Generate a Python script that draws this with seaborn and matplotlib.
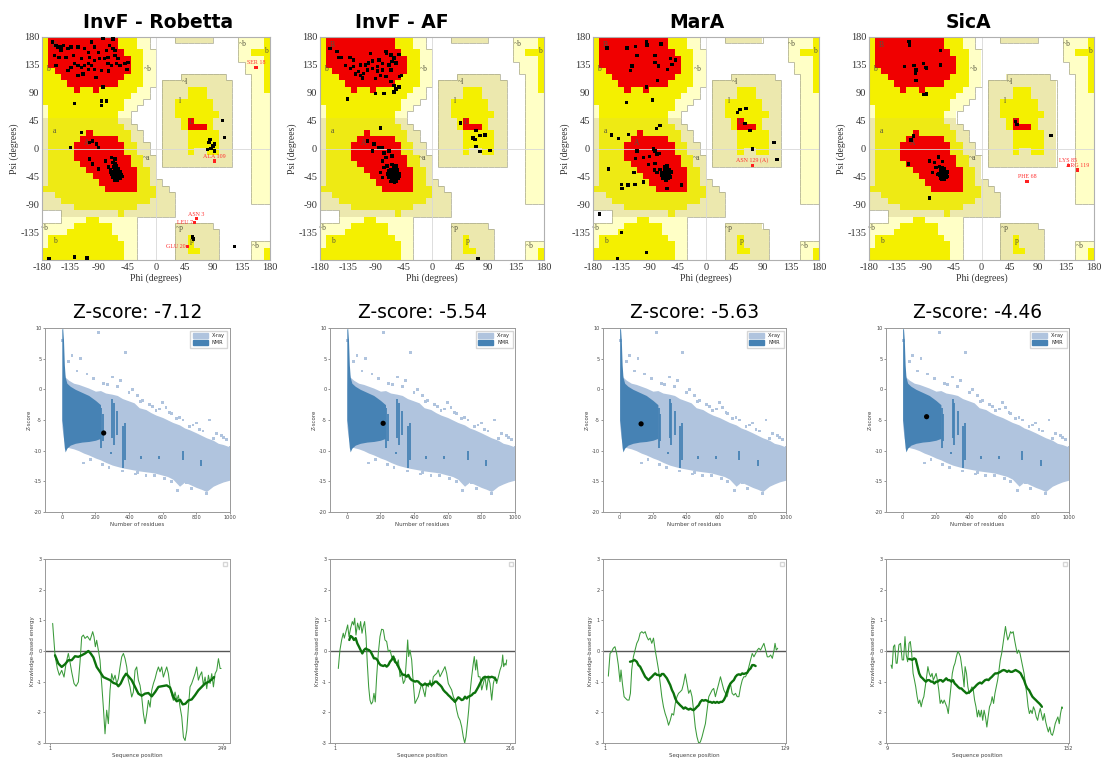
import numpy as np
import matplotlib
matplotlib.use("Agg")
import matplotlib.pyplot as plt
from matplotlib.colors import ListedColormap
from matplotlib.collections import LineCollection
from matplotlib.patches import Patch
import seaborn as sns

sns.set_theme(style="white")
plt.rcParams['font.family'] = ['DejaVu Sans']
plt.rcParams['axes.unicode_minus'] = False

# ---------------- data ----------------
TITLES = ["InvF - Robetta", "InvF - AF", "MarA", "SicA"]
ZSCORES = [-7.12, -5.54, -5.63, -4.46]
N_RESIDUES = [249, 216, 129, 144]
SEQ_START = [1, 1, 1, 9]
SEQ_END = [249, 216, 129, 152]

# Ramachandran region map, 10-degree cells, rows from psi=180 (top) to -180,
# columns from phi=-180 to 180. Run-length coded: code + count.
# . disallowed, p generous (~b), k generous (~a/~l/~p), y allowed, o allowed (a), R core
RAMA_RUNS = [
    "y1 R11 y3 p2 .4 k6 .4 p4 y1",
    "y1 R11 y3 p2 .14 p4 y1",
    "y1 R12 y3 p2 .13 p2 y3",
    "y1 R13 y2 p2 .13 p4 y1",
    "y1 R13 y2 p2 .14 p3 y1",
    "y2 R12 y2 p2 .14 p3 y1",
    "y3 R10 y3 p2 .4 k7 .4 p2 y1",
    "y4 R8 y4 p2 .1 k11 .3 p2 y1",
    "y5 R1 y2 R1 y6 p2 .2 k4 y3 k4 .3 p2 y1",
    "y14 p3 .2 k4 y3 k4 .3 p3",
    "y13 p3 .3 k2 y6 k3 .3 p3",
    "p1 y12 p2 .4 k2 y6 k3 .3 p3",
    "p1 y11 p2 .5 k2 y7 k2 .3 p3",
    "k1 o11 k2 .5 k3 y1 R1 y3 k3 .3 p3",
    "k1 o12 k2 .4 k3 y1 R3 y1 k3 .3 p3",
    "k1 o6 R1 o6 k2 .3 k4 y5 k2 .3 p3",
    "k1 o5 R6 o2 k2 .3 k4 y5 k2 .3 p3",
    "k1 o4 R8 o2 k2 .2 k4 y5 k2 .3 p3",
    "k1 o4 R8 o2 k2 .2 k4 y1 k2 y2 k2 .3 p3",
    "k1 o4 R9 o2 k2 .1 k11 .3 p3",
    "k1 o5 R8 o2 k2 .1 k11 .3 p3",
    "k1 o6 R8 o2 k1 .15 p3",
    "k1 o7 R7 o2 k1 .15 p3",
    "k1 o8 R6 o2 k2 .14 p3",
    "o10 R5 o3 k2 .13 p3",
    "k2 o16 k3 .12 p3",
    "k3 o14 k4 .12 p3",
    "k5 o10 k6 .15",
    ".3 k9 o1 k8 .15",
    ".3 p4 y2 p6 .21",
    "p5 y6 p4 .6 k6 .9",
    "p4 y7 p4 .6 k7 .8",
    "p1 y11 p3 .6 k2 y1 k4 .8",
    "p1 y12 p2 .6 k2 y1 k4 .5 p3",
    "y13 p2 .6 k2 y2 k3 .5 p2 y1",
    "y13 p2 .6 k7 .5 p2 y1",
]
REGION_LABELS = [("B", -160, 167), ("b", -171, 128), ("~b", -13, 128), ("a", -160, 28),
                 ("A", -110, 9), ("~a", -15, -15), ("~l", 46, 108), ("l", 37, 77),
                 ("L", 55, 42), ("~p", 37, -129), ("p", 57, -149), ("~b", 137, 168),
                 ("b", 173, 158), ("~b", -175, -129), ("b", -160, -149), ("~b", 157, -158)]

RAMA_POINTS_1 = [
    (-163,172),(-158,166),(-155,164),(-149,164),(-146,166),(-150,158),(-139,161),(-134,164),
    (-123,164),(-113,161),(-107,155),(-102,172),(-97,164),(-84,178),(-78,158),(-73,166),
    (-68,161),(-65,158),(-60,145),(-76,147),(-81,145),(-89,145),(-97,142),(-102,134),
    (-107,137),(-113,134),(-118,131),(-123,134),(-129,137),(-134,131),(-139,126),(-123,118),
    (-107,128),(-97,128),(-86,126),(-76,137),(-70,134),(-62,137),(-57,134),(-49,137),
    (-46,128),(-84,99),(-153,147),(-142,147),(-158,134),(-118,145),(-105,147),(-91,155),
    (-68,177),(-44,139),(-160,150),(-130,150),(-115,120),(-95,115),(-75,125),(-65,150),
    (-86,77),(-78,77),(-86,69),(-129,73),
    (-118,26),(-135,2),(-105,10),(-100,12),(-94,7),(-91,2),(-105,-17),(-100,-25),(-91,-33),
    (-70,-15),(-65,-17),(-68,-23),(-65,-25),(-62,-28),(-80,-20),(-75,-30),(-72,-35),
    (-66,-40),(-64,-42),(-62,-38),(-60,-44),(-58,-40),(-63,-46),(-67,-44),(-61,-36),(-65,-35),
    (-59,-47),(-57,-43),(-62,-41),(-64,-48),(-68,-38),(-60,-33),(-56,-38),(-63,-43),(-61,-45),
    (-66,-47),(-59,-39),(-65,-41),(-62,-49),(-58,-45),(-70,-42),(-67,-30),(-55,-42),(-64,-37),
    (-60,-40),(-63,-33),(-57,-48),(-69,-46),(-61,-51),(-65,-52),(-54,-45),(-71,-38),
    (105,45),(108,18),(85,15),(90,4),(87,0),(92,7),(81,-2),(92,-4),(84,10),
    (58,-143),(59,-146),(124,-158),(-169,-178),(-129,-175),(-109,-177),
]
RAMA_POINTS_2 = [
    (-164,161),(-153,157),(-150,147),(-145,147),(-139,134),(-132,147),(-131,129),(-126,132),
    (-123,120),(-118,124),(-115,118),(-112,114),(-110,121),(-107,135),(-102,138),(-99,153),
    (-96,141),(-91,113),(-88,125),(-85,143),(-83,118),(-80,137),(-74,157),(-73,154),(-69,135),
    (-66,151),(-64,140),(-61,146),(-58,138),(-53,152),(-52,116),(-49,118),(-66,127),(-80,127),
    (-74,116),(-66,108),(-61,102),(-53,99),(-77,89),(-91,89),(-136,80),(-61,91),(-58,96),
    (-126,143),(-115,135),(-104,127),(-96,129),(-88,132),
    (-83,33),(-104,12),(-93,7),(-85,2),(-96,-4),(-80,2),(-77,-7),(-74,-15),(-69,-4),(-64,-12),
    (-80,-20),(-77,-31),(-72,-28),(-83,-39),(-80,-47),
    (-62,-40),(-60,-42),(-64,-38),(-58,-44),(-66,-45),(-61,-47),(-63,-35),(-57,-39),(-59,-50),
    (-65,-41),(-62,-44),(-60,-37),(-55,-43),(-67,-39),(-64,-48),(-58,-36),(-61,-41),(-63,-52),
    (-56,-47),(-68,-43),(-60,-46),(-62,-30),(-66,-34),(-59,-42),(-53,-40),(-70,-47),(-65,-50),
    (-57,-53),(-61,-38),(-63,-44),(-54,-48),(-69,-36),(-58,-28),(-64,-26),(-52,-45),(-71,-41),
    (-60,-55),(-66,-53),(-62,-48),(-56,-35),
    (46,41),(71,29),(69,15),(66,17),(77,21),(85,22),(71,3),(77,-5),(93,-3),(74,-178),
]
RAMA_POINTS_3 = [
    (-158,162),(-126,162),(-112,165),(-95,173),(-94,167),(-72,169),(-110,150),(-81,150),
    (-81,139),(-76,133),(-57,145),(-49,143),(-54,136),(-61,128),(-118,133),(-120,126),
    (-77,110),(-95,99),(-85,78),(-127,74),
    (-151,22),(-139,16),(-123,23),(-79,32),(-73,37),(-110,-4),(-112,-16),(-100,-15),(-90,-13),
    (-84,-1),(-81,-4),(-78,-9),(-74,-8),(-92,-26),(-81,-24),(-82,-35),(-78,-39),(-73,-34),
    (-115,-39),(-124,-59),(-135,-58),(-134,-65),(-113,-58),(-100,-54),(-155,-33),(-62,-65),
    (-39,-59),
    (-64,-40),(-62,-43),(-66,-38),(-60,-45),(-65,-47),(-61,-36),(-68,-42),(-59,-40),(-63,-49),
    (-67,-45),(-62,-33),(-58,-43),(-70,-39),(-64,-52),(-60,-48),(-66,-30),(-56,-38),(-63,-37),
    (-61,-44),(-69,-48),(-57,-46),(-65,-42),(-62,-28),(-71,-44),(-59,-35),(-64,-45),(-66,-35),
    (-60,-41),
    (-170,-106),(-135,-136),(-141,-178),(-95,-168),
    (50,58),(54,63),(64,65),(62,40),(70,29),(74,-1),(108,10),(113,-18),
]
RAMA_POINTS_4 = [
    (-116,173),(-115,167),(-66,158),(-123,132),(-108,134),(-93,137),(-89,131),(-88,130),
    (-66,135),(-105,127),(-106,121),(-105,110),(-92,87),(-88,88),
    (-109,20),(-113,14),(-117,-25),(-83,-20),(-75,-23),(-69,-14),(-62,-21),(-78,-39),(-73,-31),
    (-83,-80),
    (-64,-40),(-62,-43),(-66,-38),(-60,-45),(-58,-41),(-63,-47),(-67,-44),(-61,-36),(-65,-34),
    (-59,-48),(-56,-43),(-62,-39),(-64,-49),(-68,-40),(-60,-33),(-55,-38),(-63,-44),(-57,-46),
    (-66,-48),(-60,-50),(-54,-45),(-70,-42),(-62,-31),(-58,-37),(-65,-45),(-67,-29),
    (54,44),(57,39),(111,21),
]
# labelled residues outside allowed regions: name, phi, psi, label side
RAMA_OUTLIERS = [
    [("SER 18", 158, 131, "above"), ("ALA 109", 92, -20, "above"), ("ASN 3", 64, -113, "above"),
     ("LEU 7", 61, -119, "left"), ("GLU 20", 50, -158, "left")],
    [],
    [("ASN 129 (A)", 74, -27, "above")],
    [("PHE 68", 73, -53, "above"), ("LYS 85", 139, -27, "above"),
     ("ARG 119", 154, -35, "above")],
]

# Z-score reference clouds (envelopes)
XRAY_RES = [0, 5, 10, 20, 40, 70, 100, 130, 160, 200, 230, 260, 300, 330, 360, 400, 430, 460,
            500, 530, 560, 600, 630, 660, 700, 730, 760, 800, 830, 860, 900, 930, 960, 1000]
XRAY_UPPER = [0.0, 4.0, 3.0, 2.0, 1.5, 1.0, 0.8, 0.5, 0.2, -0.3, -0.2, -0.6, -0.8, -1.0, -1.5,
              -1.9, -2.2, -3.0, -3.3, -3.8, -4.2, -4.6, -5.0, -5.4, -5.8, -6.3, -6.6, -7.1,
              -7.5, -7.9, -8.3, -8.8, -9.0, -9.4]
XRAY_RES_LOW = [0, 10, 20, 40, 70, 100, 130, 160, 200, 240, 280, 320, 360, 400, 440, 480, 520,
                560, 600, 640, 680, 700, 720, 760, 800, 840, 870, 900, 940, 970, 1000]
XRAY_LOWER = [-6.0, -8.0, -9.0, -9.5, -9.7, -10.0, -10.4, -10.7, -11.2, -11.6, -12.2, -12.5,
              -12.8, -13.0, -13.2, -13.4, -13.5, -13.7, -14.0, -14.3, -15.0, -15.8, -15.0,
              -15.5, -16.0, -16.4, -16.8, -15.8, -15.3, -15.0, -14.8]
NMR_RES = [0, 5, 10, 15, 20, 30, 50, 80, 120, 160, 200, 230]
NMR_UPPER = [9.8, 10.0, 8.0, 4.0, 2.0, 1.0, 0.5, 0.0, -0.5, -1.0, -1.8, -2.5]
NMR_LOWER = [-5.0, -6.0, -8.0, -9.5, -10.2, -9.6, -9.1, -8.8, -8.6, -8.5, -8.3, -8.0]
NMR_STRIPE_RES = [235, 245, 300, 310, 330, 365, 375, 580, 720, 830, 470, 290]
NMR_STRIPE_LOW = [-9.5, -8.5, -8.0, -9.0, -7.5, -12.8, -11.5, -11.4, -11.5, -12.5, -11.3, -10.6]
NMR_STRIPE_HIGH = [-3.0, -4.0, -1.5, -2.2, -3.5, -6.0, -5.5, -10.8, -10.0, -11.5, -10.8, -10.2]
XRAY_SCATTER_RES = [220, 5, 60, 110, 380, 250, 330, 420, 450, 520, 600, 650, 720, 760, 880, 900,
                    950, 1000, 130, 170, 690, 860, 560, 480, 820, 300, 350, 150, 190, 270, 400,
                    470, 540, 580, 640, 700, 780, 840, 920, 980, 990, 910, 870, 770, 740, 610,
                    500, 440, 360, 280, 240, 90, 40, 620, 680, 800, 960, 650, 550, 450]
XRAY_SCATTER_Z = [9.3, 8.0, 5.5, 5.0, 6.0, 1.0, 0.5, 0.0, -1.0, -2.5, -2.2, -4.0, -5.0, -6.0,
                  -5.0, -8.0, -7.5, -9.5, -12.0, -11.5, -16.5, -17.0, -3.5, -1.8, -6.5, 2.0,
                  1.5, 2.5, 1.8, 0.8, -0.5, -2.0, -2.8, -3.2, -3.8, -4.6, -5.8, -6.8, -7.2,
                  -8.2, -11.0, -13.0, -16.0, -16.2, -15.2, -14.6, -14.0, -13.8, -13.3, -12.8,
                  -12.2, 3.0, 4.5, -3.0, -4.8, -5.5, -7.8, -15.0, -14.1, -13.6]

# Knowledge-based energy profiles (thin = short window, thick = long window)
E1_THIN_X = [4.8, 8.2, 11.5, 14.4, 17.8, 21.1, 24, 27.3, 29.7, 32.1, 35.5, 38.4, 41.7, 44.1, 46.5,
             48.9, 51.3, 54.6, 58.5, 62.3, 64.2, 66.1, 68, 70.4, 72.8, 75.2, 77.6, 80, 82.4, 84.8,
             87.2, 89.6, 92, 94.4, 96.8, 99.2, 101.6, 104, 106.4, 108.8, 111.2, 113.5, 115.9,
             118.3, 120.7, 123.1, 125.5, 127.9, 130.3, 132.7, 135.1, 137.5, 139.9, 142.3, 144.7,
             147.1, 149.5, 151.9, 154.3, 156.7, 159, 161.4, 163.8, 166.2, 168.6, 171, 173.4,
             175.8, 178.2, 180.6, 183, 185.4, 187.8, 190.2, 192.6, 195, 197.4, 199.8, 202.1,
             204.5, 206.9, 209.3, 211.7, 214.1, 216.5, 218.9, 221.3, 223.7, 226.1, 228.5, 230.9,
             233.3, 235.7, 238.1, 240.5, 242.9, 245.3, 246.7]
E1_THIN_Y = [0.90, -0.14, -0.57, -0.79, -0.63, -0.85, -0.41, -0.08, -0.36, -0.68, -1.06, -1.15,
             -1.01, -0.36, 0.46, 0.52, 0.41, 0.48, 0.35, 0.63, 0.46, 0.14, 0.35, 0.03, -0.30,
             -1.06, -1.83, -2.70, -1.93, -2.37, -1.28, -0.74, -0.95, -0.79, -1.06, -0.90, -0.52,
             -0.19, -0.08, -0.25, -0.52, -0.95, -1.17, -1.50, -1.34, -0.63, -0.52, -0.95, -1.12,
             -1.50, -2.04, -2.37, -2.04, -1.61, -1.83, -1.28, -1.06, -0.90, -0.68, -0.52, -0.68,
             -0.52, -0.85, -0.68, -0.52, -0.74, -1.17, -1.44, -1.61, -1.34, -1.61, -1.44, -1.83,
             -2.15, -2.81, -2.92, -2.59, -1.83, -1.17, -1.06, -0.90, -0.74, -0.52, -0.95, -0.79,
             -0.68, -1.12, -0.85, -1.23, -0.79, -1.06, -0.74, -1.17, -0.74, -0.63, -0.25, -0.57,
             -0.57]
E1_THICK_X = [8.2, 13, 17.8, 22.6, 27.3, 32.1, 36.9, 41.7, 46.5, 51.3, 56.1, 59.4, 63.3, 68,
              72.8, 77.6, 82.4, 87.2, 92, 96.8, 99.2, 102.5, 106.4, 110.2, 113.5, 118.3, 123.1,
              127.9, 132.7, 137.5, 142.3, 147.1, 151.9, 156.7, 163.8, 168.6, 173.4, 178.2, 183,
              187.8, 191.6, 195.4, 199.8, 204.5, 209.3, 214.1, 218.9, 223.7, 228.5, 233.3, 236.6]
E1_THICK_Y = [-0.14, -0.41, -0.52, -0.43, -0.30, -0.30, -0.17, -0.19, -0.14, -0.08, 0.00, -0.08,
              -0.21, -0.52, -0.68, -0.85, -0.90, -0.95, -1.04, -1.08, -1.15, -1.06, -0.87, -0.74,
              -0.82, -0.95, -1.17, -1.39, -1.46, -1.39, -1.37, -1.48, -1.34, -1.17, -1.14, -1.12,
              -1.19, -1.50, -1.64, -1.59, -1.74, -1.72, -1.61, -1.58, -1.44, -1.28, -1.17, -1.06,
              -1.01, -0.93, -0.85]

E2_THIN_X = [5.1, 7.1, 9.2, 11.2, 12.5, 14.5, 16.6, 18.2, 20.2, 22.3, 23.9, 25.2, 26.8, 28.8,
             30.9, 32.5, 34.2, 35.8, 37.4, 39.1, 40.7, 42.4, 44, 45.6, 47.3, 48.9, 50.5, 52.2,
             54.2, 56.3, 58.3, 60.4, 62.4, 64.5, 66.5, 68.6, 70.6, 72.7, 74.7, 76.8, 78.8, 80.9,
             82.9, 85, 87, 89, 90.3, 91.5, 93.1, 95.2, 97.2, 99.3, 101.3, 103.4, 105.4, 107.5,
             109.5, 111.6, 113.6, 115.7, 117.7, 119.8, 121.8, 123.8, 125.9, 127.9, 130, 132,
             134.1, 136.1, 138.2, 140.2, 142.3, 144.3, 146.4, 148.4, 150.5, 152.5, 154.6, 156.6,
             158.6, 160.3, 161.9, 163.6, 165.2, 166.8, 168.9, 170.9, 172.1, 173.8, 175, 177.1,
             179.1, 181.2, 183.2, 185.3, 187.3, 189.4, 191.4, 193.5, 195.5, 197.6, 199.6, 201.7,
             203.7, 205.8, 207, 208.2, 209.8, 211.1, 211.9]
E2_THIN_Y = [-0.57, 0.03, 0.36, 0.58, 0.42, 0.63, 0.85, 0.47, 0.74, 0.96, 0.85, 1.07, 0.52, 0.91,
             0.69, 0.96, 0.58, 0.80, 0.96, 0.47, -0.40, -1.17, -1.60, -1.73, -1.66, -1.38, -1.66,
             -0.84, -0.08, 0.47, 0.71, 0.69, 0.36, 0.31, -0.02, 0.03, -0.18, -0.29, -0.24, -0.46,
             -0.29, -0.84, -0.73, -1.06, -0.95, -0.18, 0.36, -0.18, 0.03, -0.29, -1.06, -1.71,
             -1.60, -1.49, -1.27, -1.06, -1.27, -1.49, -1.06, -1.17, -0.95, -1.17, -0.84, -0.78,
             -0.73, -0.62, -0.84, -0.73, -0.62, -0.51, -0.73, -1.06, -1.17, -1.27, -1.49, -1.60,
             -1.93, -2.15, -2.26, -2.47, -2.80, -3.00, -2.80, -2.37, -1.93, -1.38, -0.84, -0.40,
             -0.18, -0.62, -0.29, -0.84, -0.84, -1.27, -1.06, -0.84, -1.27, -0.84, -1.06, -1.60,
             -1.06, -0.84, -1.06, -0.84, -0.62, -0.46, -0.13, -0.51, -0.40, -0.46, -0.29]
E2_THICK_X = [18.6, 20.2, 22.3, 24.3, 26.4, 28.4, 30.5, 32.5, 34.6, 36.6, 38.7, 40.7, 42.8,
              44.8, 46.9, 48.9, 51, 53, 55.1, 57.1, 60.4, 62.4, 64.5, 66.5, 68.6, 70.6, 72.7,
              74.7, 76.8, 78.8, 80.9, 82.9, 85, 87, 89, 91.1, 93.1, 95.2, 97.2, 99.3, 101.3,
              103.4, 105.4, 107.5, 109.5, 111.6, 113.6, 115.7, 117.7, 119.8, 121.8, 123.8,
              125.9, 127.9, 130, 132, 134.1, 136.1, 138.2, 140.2, 142.3, 144.3, 146.4, 148.4,
              150.5, 152.5, 154.6, 156.6, 158.6, 160.7, 162.8, 164.8, 166.8, 168.9, 170.9, 173,
              175, 177.1, 179.1, 181.2, 183.2, 185.3, 187.3, 189.4, 191.4, 193.5, 195.5, 197.6,
              198.9]
E2_THICK_Y = [0.36, 0.49, 0.45, 0.36, 0.42, 0.25, 0.14, 0.03, -0.08, 0.03, 0.08, 0.05, 0.03,
              -0.02, -0.13, -0.24, -0.24, -0.29, -0.40, -0.46, -0.49, -0.46, -0.51, -0.46, -0.35,
              -0.29, -0.18, -0.35, -0.40, -0.51, -0.62, -0.73, -0.78, -0.78, -0.84, -0.78, -0.89,
              -0.95, -0.97, -1.00, -0.98, -1.00, -1.06, -1.11, -1.11, -1.06, -1.11, -1.08, -1.06,
              -1.11, -1.06, -1.00, -1.00, -1.06, -1.11, -1.17, -1.27, -1.33, -1.38, -1.44, -1.49,
              -1.55, -1.60, -1.66, -1.58, -1.51, -1.55, -1.60, -1.58, -1.49, -1.55, -1.49, -1.47,
              -1.44, -1.38, -1.36, -1.27, -1.17, -1.06, -0.95, -0.87, -0.84, -0.86, -0.84, -0.86,
              -0.84, -0.86, -0.89, -0.95]

E3_THIN_X = [3.4, 4.6, 5.8, 6.9, 8.1, 9.3, 10.5, 11.7, 12.4, 13.4, 14.6, 15.8, 16.9, 18.1, 19.1,
             20, 21.2, 22.4, 23.6, 24.8, 26, 27.2, 28.4, 29.6, 30.7, 31.9, 33.1, 34.3, 35.5, 36.7,
             37.9, 39.1, 40.3, 41.4, 42.6, 43.8, 45, 46.2, 47.4, 48.6, 49.8, 51, 52.2, 53.3,
             54.5, 55.7, 56.9, 58.1, 59.3, 60.5, 61.7, 62.9, 64, 65.2, 66.4, 67.6, 68.8, 70,
             71.2, 72.4, 73.6, 74.8, 76, 77.2, 78.3, 79.5, 80.7, 81.9, 83.1, 84.3, 85.5, 86.7,
             87.8, 89, 90.2, 91.4, 92.6, 93.8, 95, 96.2, 97.4, 98.6, 99.7, 100.9, 102.1, 103.3,
             104.5, 105.7, 106.9, 108.1, 109.3, 110.4, 111.6, 112.8, 114, 115.2, 116.4, 117.6,
             118.8, 120, 121.2, 121.9, 122.8, 123.8]
E3_THIN_Y = [-0.82, -0.08, -0.02, 0.09, 0.14, -0.08, -0.46, -1.00, -0.62, -1.06, -1.49, -1.55,
             -1.60, -1.60, -1.38, -0.62, -0.19, 0.03, 0.25, 0.36, 0.58, 0.63, 0.58, 0.63, 0.47,
             0.36, 0.42, 0.25, 0.42, 0.03, -0.29, -0.62, -1.06, -1.49, -1.82, -2.04, -2.20,
             -2.42, -2.26, -2.04, -2.09, -1.71, -1.49, -1.38, -1.33, -1.27, -1.06, -0.75, -1.06,
             -1.38, -1.27, -1.49, -1.93, -2.48, -2.80, -3.00, -2.97, -2.80, -2.58, -2.37, -1.93,
             -1.49, -1.38, -1.27, -1.22, -1.49, -1.27, -1.06, -0.84, -1.06, -1.27, -1.38, -1.49,
             -1.27, -1.06, -1.38, -1.44, -1.38, -1.49, -1.49, -1.17, -0.95, -0.84, -0.84, -0.73,
             -0.51, -0.29, -0.08, -0.19, -0.08, 0.03, 0.09, 0.03, 0.14, 0.25, 0.03, -0.19, -0.19,
             -0.13, -0.24, 0.03, 0.25, 0.03, 0.09]
E3_THICK_X = [18.8, 20.5, 21.9, 23.6, 24.8, 26, 27.2, 28.4, 29.6, 30.7, 31.9, 33.1, 34.3, 35.5,
              36.7, 37.9, 39.1, 40.3, 41.4, 42.6, 43.8, 45, 46.2, 47.4, 48.6, 49.8, 51, 52.2,
              53.3, 54.5, 55.7, 56.9, 58.1, 59.3, 60.5, 61.7, 62.9, 64, 65.2, 66.4, 67.6, 68.8,
              70, 71.2, 72.4, 73.6, 74.8, 76, 77.2, 78.3, 79.5, 80.7, 81.9, 83.1, 84.3, 85.5,
              86.7, 87.8, 89, 90.2, 91.4, 92.6, 93.8, 95, 96.2, 97.4, 98.6, 99.7, 100.9, 102.1,
              103.3, 104.5, 105.7, 106.9, 108.1]
E3_THICK_Y = [-0.35, -0.33, -0.29, -0.35, -0.46, -0.51, -0.62, -0.73, -0.84, -0.89, -0.95,
              -0.89, -0.84, -0.78, -0.73, -0.78, -0.78, -0.82, -0.75, -0.75, -0.82, -0.89, -1.00,
              -1.11, -1.27, -1.38, -1.55, -1.66, -1.71, -1.77, -1.82, -1.88, -1.84, -1.88, -1.91,
              -1.88, -1.91, -1.93, -1.88, -1.82, -1.77, -1.66, -1.60, -1.62, -1.60, -1.62, -1.66,
              -1.66, -1.69, -1.66, -1.69, -1.66, -1.69, -1.66, -1.66, -1.60, -1.49, -1.33, -1.17,
              -1.06, -1.00, -0.95, -0.84, -0.78, -0.76, -0.78, -0.73, -0.75, -0.73, -0.71, -0.62,
              -0.57, -0.46, -0.46, -0.49]

E4_THIN_X = [12.2, 13, 14.1, 15.1, 16.2, 17, 18.4, 19.7, 21, 22.1, 23.2, 24.2, 25.3, 26.4, 27.4,
             28.5, 29.6, 30.7, 31.7, 32.8, 33.9, 34.9, 36, 37.1, 38.1, 39.2, 40.3, 41.3, 42.4,
             43.5, 44.6, 45.6, 46.7, 47.8, 48.8, 49.9, 51, 52, 53.1, 54.2, 55.2, 56.3, 57.4,
             58.5, 59.5, 60.6, 61.7, 62.7, 63.8, 64.9, 66, 67, 68.1, 69.1, 69.9, 70.7, 71.8,
             72.9, 74, 75, 76.1, 77.2, 78.2, 79.3, 80.4, 81.4, 82.5, 83.6, 84.6, 85.7, 86.8,
             87.9, 88.9, 90, 91.1, 92.1, 93.2, 94.3, 95.3, 96.4, 97.5, 98.5, 99.6, 100.7, 101.8,
             102.6, 103.4, 104.4, 105.5, 106.6, 107.6, 108.7, 109.8, 110.8, 111.9, 113, 114.1,
             115.1, 116.2, 117.3, 118.3, 119.4, 120.5, 121.5, 122.6, 123.7, 124.7, 125.8, 126.9,
             128, 129, 130.1, 131.2, 132.2, 133.3, 134.4, 135.4, 136.5, 137.6, 138.6, 139.7,
             140.8, 141.9, 142.9, 144, 145.1, 146.1, 147.2, 147.7]
E4_THIN_Y = [-0.46, -0.57, 0.14, 0.20, -0.40, -0.40, 0.20, 0.25, -0.29, -0.29, 0.47, -0.13,
             -0.35, 0.25, 0.31, -0.08, -0.73, -0.95, -1.17, -1.49, -1.71, -1.60, -1.82, -1.60,
             -1.49, -1.17, -0.84, -0.51, -0.73, -0.84, -0.73, -0.95, -0.84, -0.73, -0.95, -1.27,
             -1.71, -1.60, -1.71, -1.60, -1.71, -1.82, -2.04, -1.60, -1.17, -0.73, -0.51, -0.40,
             -0.19, -0.02, -0.08, -0.19, -0.51, -0.84, -1.17, -0.51, -0.73, -1.17, -1.39, -1.28,
             -1.17, -1.28, -1.60, -1.82, -2.15, -1.93, -2.15, -1.93, -2.26, -1.93, -2.15, -2.48,
             -2.15, -1.82, -1.71, -1.49, -1.71, -1.38, -1.17, -0.95, -0.62, -0.29, -0.08, 0.25,
             0.58, 0.80, 0.58, 0.36, 0.47, 0.63, 0.58, 0.63, 0.36, 0.14, -0.08, 0.03, -0.08,
             -0.29, -0.51, -0.73, -1.06, -1.39, -1.82, -2.04, -1.93, -2.04, -1.82, -1.93, -2.15,
             -2.26, -2.04, -1.87, -2.09, -2.26, -2.04, -2.31, -2.48, -2.64, -2.48, -2.70, -2.75,
             -2.59, -2.37, -2.26, -2.15, -2.37, -2.04, -1.82, -1.87]
E4_THICK_X = [26.4, 27.7, 29, 30.4, 31.7, 33.1, 34.4, 35.7, 37.1, 38.4, 39.7, 41.1, 42.4, 43.8,
              45.1, 46.4, 47.8, 49.1, 50.4, 51.8, 53.1, 54.4, 55.8, 57.1, 58.5, 59.8, 61.1, 62.5,
              63.8, 65.1, 66.5, 67.8, 69.1, 70.5, 71.8, 73.2, 74.5, 75.8, 77.2, 78.5, 79.8, 81.2,
              82.5, 83.8, 85.2, 86.5, 87.9, 89.2, 90.5, 91.9, 93.2, 94.5, 95.9, 97.2, 98.5, 99.9,
              101.2, 102.6, 103.9, 105.2, 106.6, 107.9, 109.2, 110.6, 111.9, 113.2, 114.6, 115.9,
              117.3, 118.6, 119.9, 121.3, 122.6, 123.9, 125.3, 126.6, 128, 129.3, 130.6, 131.4]
E4_THICK_Y = [-0.26, -0.27, -0.29, -0.24, -0.27, -0.51, -0.73, -0.84, -0.89, -0.95, -1.00,
              -0.95, -0.95, -1.00, -1.00, -1.06, -1.00, -1.00, -0.95, -0.95, -1.00, -0.95, -0.89,
              -0.95, -0.95, -1.00, -0.95, -1.06, -1.11, -1.17, -1.22, -1.22, -1.28, -1.33, -1.38,
              -1.36, -1.33, -1.28, -1.22, -1.17, -1.11, -1.06, -1.03, -1.06, -1.00, -0.95, -0.93,
              -0.95, -0.89, -0.84, -0.78, -0.73, -0.73, -0.71, -0.68, -0.64, -0.62, -0.64, -0.68,
              -0.64, -0.68, -0.68, -0.65, -0.62, -0.65, -0.68, -0.73, -0.84, -0.95, -1.11, -1.22,
              -1.28, -1.39, -1.49, -1.55, -1.60, -1.66, -1.71, -1.77, -1.82]

ENERGY = [(E1_THIN_X, E1_THIN_Y, E1_THICK_X, E1_THICK_Y),
          (E2_THIN_X, E2_THIN_Y, E2_THICK_X, E2_THICK_Y),
          (E3_THIN_X, E3_THIN_Y, E3_THICK_X, E3_THICK_Y),
          (E4_THIN_X, E4_THIN_Y, E4_THICK_X, E4_THICK_Y)]
RAMA_POINTS = [RAMA_POINTS_1, RAMA_POINTS_2, RAMA_POINTS_3, RAMA_POINTS_4]

# ---------------- layout ----------------
W, H = 1102, 758
fig = plt.figure(figsize=(W / 100, H / 100), dpi=100)


def add_ax(x0, x1, y0, y1):
    return fig.add_axes([x0 / W, 1 - y1 / H, (x1 - x0) / W, (y1 - y0) / H])


RAMA_X = [(42, 270), (320, 544), (593, 819), (869, 1094)]
RAMA_TITLE_X = [158, 402, 697, 968]
LOW_X = [(45, 230), (330, 515), (603, 786), (886, 1069)]
E_XLIM = [(-6.2, 259.5), (-5.1, 222.1), (-0.4, 129.7), (8.2, 152.8)]

CODE_INDEX = {'.': 0, 'p': 1, 'k': 2, 'y': 3, 'o': 4, 'R': 5}
rama_cmap = ListedColormap(['#ffffff', '#ffffc6', '#ece8ae', '#f4f000', '#eeea14', '#f00000'])


def expand(run):
    out = []
    for tok in run.split():
        out.extend([CODE_INDEX[tok[0]]] * int(tok[1:]))
    return (out + [0] * 36)[:36]


rama_grid = np.array([expand(r) for r in RAMA_RUNS])

# outline segments of the allowed regions (edges against disallowed cells)
edge_segs = []
for r in range(36):
    for c in range(36):
        a = rama_grid[r, c]
        top = 180 - 10 * r
        left = -180 + 10 * c
        if c < 35 and (a == 0) != (rama_grid[r, c + 1] == 0):
            edge_segs.append([(left + 10, top - 10), (left + 10, top)])
        if r < 35 and (a == 0) != (rama_grid[r + 1, c] == 0):
            edge_segs.append([(left, top - 10), (left + 10, top - 10)])

SERIF = ['Liberation Serif', 'DejaVu Serif']
GRAY = '#999999'
TXT = '#444444'

for i in range(4):
    # ---- Ramachandran ----
    ax = add_ax(RAMA_X[i][0], RAMA_X[i][1], 37, 260)
    ax.imshow(rama_grid, cmap=rama_cmap, vmin=-0.5, vmax=5.5, extent=[-180, 180, -180, 180],
              origin='upper', interpolation='nearest', aspect='auto', zorder=0)
    ax.add_collection(LineCollection(edge_segs, colors='#a5a58a', linewidths=0.5, zorder=1))
    ax.axhline(0, color='#d8d8d8', lw=0.6, zorder=1)
    ax.axvline(0, color='#d8d8d8', lw=0.6, zorder=1)
    for txt, px, py in REGION_LABELS:
        ax.text(px, py, txt, family=SERIF, fontsize=5.5, color='#555540', ha='center',
                va='center', zorder=2)
    pts = np.array(RAMA_POINTS[i])
    sns.scatterplot(x=pts[:, 0], y=pts[:, 1], marker='s', s=6, color='black', edgecolor='none',
                    ax=ax, zorder=3, legend=False)
    for lab, px, py, side in RAMA_OUTLIERS[i]:
        ax.scatter([px], [py], marker='s', s=6, color='#ff2020', edgecolor='none', zorder=4)
        if side == "left":
            ax.text(px - 3, py, lab, family=SERIF, fontsize=4.3, color='#ff3030', ha='right',
                    va='center', zorder=4)
        else:
            ax.text(px, py + 3, lab, family=SERIF, fontsize=4.3, color='#ff3030', ha='center',
                    va='bottom', zorder=4)
    ax.set_xlim(-180, 180)
    ax.set_ylim(-180, 180)
    xt = np.arange(-180, 181, 45)
    yt = np.arange(-135, 181, 45)
    ax.set_xticks(xt)
    ax.set_yticks(yt)
    ax.set_xticklabels([str(t) for t in xt], family=SERIF, fontsize=7.5, color='#333333')
    ax.set_yticklabels([str(t) for t in yt], family=SERIF, fontsize=7.5, color='#333333')
    ax.tick_params(length=0, pad=2)
    ax.set_xlabel("Phi (degrees)", family=SERIF, fontsize=7, color='#333333', labelpad=1)
    ax.set_ylabel("Psi (degrees)", family=SERIF, fontsize=7, color='#333333', labelpad=1)
    for sp in ax.spines.values():
        sp.set_color('#b0b0b0')
        sp.set_linewidth(0.8)
    fig.text(RAMA_TITLE_X[i] / W, 1 - 23 / H, TITLES[i], fontsize=13.5, fontweight='bold',
             ha='center', va='center', color='black')

    # ---- Z-score ----
    ax = add_ax(LOW_X[i][0], LOW_X[i][1], 328, 512)
    ax.fill_between(XRAY_RES, np.interp(XRAY_RES, XRAY_RES_LOW, XRAY_LOWER), XRAY_UPPER,
                    color='lightsteelblue', lw=0, zorder=1)
    sns.scatterplot(x=XRAY_SCATTER_RES, y=XRAY_SCATTER_Z, color='lightsteelblue', s=4,
                    marker='s', edgecolor='none', ax=ax, zorder=1, legend=False)
    ax.fill_between(NMR_RES, NMR_LOWER, NMR_UPPER, color='steelblue', lw=0, zorder=2)
    ax.vlines(NMR_STRIPE_RES, NMR_STRIPE_LOW, NMR_STRIPE_HIGH, color='steelblue', lw=1.3,
              zorder=2)
    sns.scatterplot(x=[N_RESIDUES[i]], y=[ZSCORES[i]], color='black', s=14, edgecolor='none',
                    ax=ax, zorder=5, legend=False)
    ax.set_xlim(-100, 1000)
    ax.set_ylim(-20, 10)
    ax.set_xticks(range(0, 1001, 200))
    ax.set_yticks(range(-20, 11, 5))
    ax.tick_params(labelsize=3.6, colors=TXT, length=1.5, width=0.4, pad=1, left=True,
                   bottom=True)
    ax.set_xlabel("Number of residues", fontsize=4, color=TXT, labelpad=1)
    ax.set_ylabel("Z-score", fontsize=4, color=TXT, labelpad=1)
    for sp in ax.spines.values():
        sp.set_color(GRAY)
        sp.set_linewidth(0.7)
    ax.legend(handles=[Patch(color='lightsteelblue', label='X-ray'),
                       Patch(color='steelblue', label='NMR')],
              loc='upper right', fontsize=3.6, frameon=True, handlelength=3, handleheight=1,
              borderpad=0.5, labelspacing=0.4, edgecolor='#cccccc', fancybox=False)
    ax.set_title(f"Z-score: {ZSCORES[i]:.2f}", fontsize=13.4, pad=7, color='black')

    # ---- Energy ----
    ax = add_ax(LOW_X[i][0], LOW_X[i][1], 559, 743)
    tx, ty, kx, ky = ENERGY[i]
    ax.axhline(0, color='#555555', lw=1.0, zorder=1)
    sns.lineplot(x=tx, y=ty, color='#3a9a3a', linewidth=0.75, ax=ax, sort=False,
                 estimator=None, zorder=2)
    sns.lineplot(x=kx, y=ky, color='#0c720c', linewidth=1.7, ax=ax, sort=False,
                 estimator=None, zorder=3)
    ax.set_xlim(*E_XLIM[i])
    ax.set_ylim(-3, 3)
    ax.set_xticks([SEQ_START[i], SEQ_END[i]])
    ax.set_yticks(range(-3, 4))
    ax.tick_params(labelsize=3.6, colors=TXT, length=1.5, width=0.4, pad=1, left=True,
                   bottom=True)
    ax.set_xlabel("Sequence position", fontsize=4, color=TXT, labelpad=1)
    ax.set_ylabel("Knowledge-based energy", fontsize=4, color=TXT, labelpad=1)
    for sp in ax.spines.values():
        sp.set_color(GRAY)
        sp.set_linewidth(0.7)
    ax.legend(handles=[], loc='upper right', fontsize=3.6, frameon=True,
              edgecolor='#cccccc', fancybox=False)

fig.savefig("out.png", dpi=100, facecolor='white')
